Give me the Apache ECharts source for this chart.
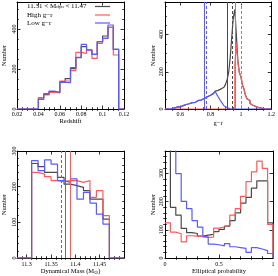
<!DOCTYPE html>
<html><head><meta charset="utf-8">
<script src="https://cdn.jsdelivr.net/npm/echarts@6/dist/echarts.min.js"></script>
<style>html,body{margin:0;padding:0;background:#fff}#c{width:278px;height:276px}</style>
</head><body><div id="c"></div>
<script>
// ---------- Panel 1: Redshift ----------
const zEdges = [0.02,0.025,0.03,0.035,0.04,0.045,0.05,0.055,0.06,0.065,0.07,0.075,0.08,0.085,0.09,0.095,0.1,0.105,0.11,0.115,0.12];
const zAll  = [0,0,0,0,55,73,87,82,137,152,202,257,312,295,273,337,365,408,298,0];
const zHigh = [0,0,0,0,57,70,83,82,140,140,192,283,278,295,253,328,353,408,270,0];
const zLow  = [0,0,0,0,48,77,90,82,133,132,207,258,323,295,273,337,353,420,298,0];
const zTicks = [0.02,0.04,0.06,0.08,0.1,0.12];
const zMinor = [0.025,0.03,0.035,0.045,0.05,0.055,0.065,0.07,0.075,0.085,0.09,0.095,0.105,0.11,0.115];
const zY = [0,200,400];
const zYMinor = [50,100,150,250,300,350,450,500];

// ---------- Panel 2: g-r ----------
const grStart = 0.5, grStep = 0.01;
const grAll = [
 0,0,0,0,2,5,7,10,12,11,
 15,18,20,24,22,28,30,34,38,36,
 42,46,50,48,55,58,63,66,70,74,
 78,84,90,96,100,104,108,112,118,125,
 135,160,200,280,390,490,535,400,260,195,
 175,130,108,75,55,46,30,20,17,13,
 11,7,5,4,3,1,0,0,0,0];
const grHigh = [
 0,0,0,0,0,0,0,0,0,0,
 0,0,0,0,0,0,0,0,0,0,
 0,0,0,0,0,0,0,0,0,0,
 0,0,0,0,0,0,0,0,0,0,
 0,0,0,0,0,0,240,350,250,195,
 175,130,108,75,55,46,30,20,17,13,
 11,7,5,4,3,1,0,0,0,0];
const grLow = [
 0,0,0,0,2,5,7,10,12,11,
 15,18,20,24,22,28,30,34,38,36,
 42,46,50,48,55,58,63,66,70,74,
 78,84,90,95,80,66,52,40,28,16,
 8,3,0,0,0,0,0,0,0,0,
 0,0,0,0,0,0,0,0,0,0,
 0,0,0,0,0,0,0,0,0,0];
const grTicks = [0.6,0.8,1,1.2];
const grMinor = [0.55,0.65,0.7,0.75,0.85,0.9,0.95,1.05,1.1,1.15];
const grY = [0,200,400];
const grYMinor = [50,100,150,250,300,350,450,500,550];
const grLinesAll = [0.906, 0.940];   // [solid, dashed]
const grLinesHigh = [0.965, 0.996];
const grLinesLow = [0.757, 0.771];

// ---------- Panel 3: Dynamical mass ----------
const mEdges = [11.28,11.31,11.3233,11.3367,11.35,11.3633,11.3767,11.39,11.4033,11.4167,11.43,11.4433,11.4567,11.47,11.5];
const mAll  = [0,265,256,240,240,226,207,203,198,189,165,165,109,0];
const mHigh = [0,240,235,228,217,214,217,217,212,217,170,189,119,0];
const mLow  = [0,273,245,275,263,217,212,222,165,184,154,123,95,0];
const mTicks = [11.3,11.35,11.4,11.45];
const mMinor = [11.29,11.31,11.32,11.33,11.34,11.36,11.37,11.38,11.39,11.41,11.42,11.43,11.44,11.46,11.47,11.48,11.49];
const mY = [0,100,200,300];
const mYMinor = [20,40,60,80,120,140,160,180,220,240,260,280];
const mLinesAll = [11.3805, 11.3745];
const mLinesHigh = [11.386, 11.3835];
const mLinesLow = [11.378, 11.370];

// ---------- Panel 4: Elliptical probability ----------
const pEdges = [0,0.05,0.1,0.15,0.2,0.25,0.3,0.35,0.4,0.45,0.5,0.55,0.6,0.65,0.7,0.75,0.8,0.85,0.9,0.95,1];
const pAll  = [600,180,152,105,90,87,78,81,84,94,102,113,133,160,195,215,248,274,274,125];
const pHigh = [125,92,86,57,79,78,77,73,74,106,110,117,152,175,219,271,306,344,318,119];
const pLow  = [900,500,300,201,175,133,110,75,49,47,43,51,40,37,34,20,37,32,26,16];
const pTicks = [0,0.5,1];
const pMinor = [0.1,0.2,0.3,0.4,0.6,0.7,0.8,0.9];
const pY = [0,100,200,300];
const pYMinor = [20,40,60,80,120,140,160,180,220,240,260,280,320,340,360];

// ---------- styling ----------
const FONT = 'Liberation Serif';
const C_ALL = '#4a4a4a', C_HIGH = '#ff5a5a', C_LOW = '#5a5aff';

function hist(edges, vals) {
  const d = vals.map((v, i) => [edges[i], v]);
  d.push([edges[edges.length - 1], vals[vals.length - 1]]);
  d.push([edges[edges.length - 1], 0]);
  return d;
}
function grEdges(n) { const e = []; for (let i = 0; i <= n; i++) e.push(+(grStart + i * grStep).toFixed(3)); return e; }

const grids = [
  {left: 14, top: 2, width: 110, height: 107},
  {left: 165, top: 2, width: 108, height: 107},
  {left: 14, top: 151, width: 110, height: 108},
  {left: 165, top: 151, width: 108, height: 108}
];

const xAxes = [], yAxes = [];
function frame(g, xr, xMaj, xMin, xName, yr, yMaj, yMin, yName, o) {
  const base = {type: 'value', gridIndex: g, splitLine: {show: false}, silent: true};
  const lab = {fontFamily: FONT, fontSize: 6, color: '#000'};
  const line = {show: true, onZero: false, lineStyle: {color: '#000', width: 1}};
  xAxes.push(Object.assign({}, base, {min: xr[0], max: xr[1], position: 'bottom', axisLine: line,
    axisTick: {show: true, inside: true, length: 3.5, customValues: xMaj, lineStyle: {color: '#000', width: 0.8}},
    axisLabel: Object.assign({show: true, customValues: xMaj, margin: o.xm}, lab),
    name: xName, nameLocation: 'middle', nameGap: o.xg,
    nameTextStyle: {fontFamily: FONT, fontSize: 6.5, color: '#000', rich: {s: {fontFamily: FONT, fontSize: 4.5, color: '#000', verticalAlign: 'bottom', lineHeight: 4}}}}));
  xAxes.push(Object.assign({}, base, {min: xr[0], max: xr[1], position: 'bottom', axisLine: {show: false},
    axisTick: {show: true, inside: true, length: 1.8, customValues: xMin, lineStyle: {color: '#000', width: 0.8}},
    axisLabel: {show: false}}));
  xAxes.push(Object.assign({}, base, {min: xr[0], max: xr[1], position: 'top', axisLine: line,
    axisTick: {show: true, inside: true, length: 3.5, customValues: xMaj, lineStyle: {color: '#000', width: 0.8}},
    axisLabel: {show: false}}));
  xAxes.push(Object.assign({}, base, {min: xr[0], max: xr[1], position: 'top', axisLine: {show: false},
    axisTick: {show: true, inside: true, length: 1.8, customValues: xMin, lineStyle: {color: '#000', width: 0.8}},
    axisLabel: {show: false}}));
  yAxes.push(Object.assign({}, base, {min: yr[0], max: yr[1], position: 'left', axisLine: line,
    axisTick: {show: true, inside: true, length: 3.5, customValues: yMaj, lineStyle: {color: '#000', width: 0.8}},
    axisLabel: Object.assign({show: true, customValues: yMaj, rotate: 90, margin: o.ym}, lab),
    name: yName, nameLocation: 'middle', nameRotate: 90, nameGap: o.yg,
    nameTextStyle: {fontFamily: FONT, fontSize: 6.5, color: '#000'}}));
  yAxes.push(Object.assign({}, base, {min: yr[0], max: yr[1], position: 'left', axisLine: {show: false},
    axisTick: {show: true, inside: true, length: 1.8, customValues: yMin, lineStyle: {color: '#000', width: 0.8}},
    axisLabel: {show: false}}));
  yAxes.push(Object.assign({}, base, {min: yr[0], max: yr[1], position: 'right', axisLine: line,
    axisTick: {show: true, inside: true, length: 3.5, customValues: yMaj, lineStyle: {color: '#000', width: 0.8}},
    axisLabel: {show: false}}));
  yAxes.push(Object.assign({}, base, {min: yr[0], max: yr[1], position: 'right', axisLine: {show: false},
    axisTick: {show: true, inside: true, length: 1.8, customValues: yMin, lineStyle: {color: '#000', width: 0.8}},
    axisLabel: {show: false}}));
}

frame(0, [0.02, 0.12], zTicks, zMinor, 'Redshift', [0, 535], zY, zYMinor, 'Number', {xm: 2, xg: 9, ym: 0, yg: 9});
frame(1, [0.5, 1.2], grTicks, grMinor, 'g\u2212r', [0, 575], grY, grYMinor, 'Number', {xm: 2, xg: 10.5, ym: 1, yg: 7});
frame(2, [11.28, 11.5], mTicks, mMinor, 'Dynamical Mass (M{s|\u2299})', [0, 300], mY, mYMinor, 'Number', {xm: 3, xg: 10, ym: 0, yg: 9});
frame(3, [0, 1], pTicks, pMinor, 'Elliptical probability', [0, 380], pY, pYMinor, 'Number', {xm: 3, xg: 10, ym: 1, yg: 7});

function stepSeries(g, data, color, lines) {
  const s = {type: 'line', step: 'end', data: data, xAxisIndex: 4 * g, yAxisIndex: 4 * g,
    symbol: 'none', silent: true, animation: false, clip: true,
    lineStyle: {color: color, width: 1.2}, itemStyle: {color: color}};
  if (lines) {
    s.markLine = {silent: true, animation: false, symbol: ['none', 'none'], label: {show: false},
      data: [
        {xAxis: lines[0], lineStyle: {color: color, width: 1, type: 'solid'}},
        {xAxis: lines[1], lineStyle: {color: color, width: 1, type: [3, 2]}}
      ]};
  }
  return s;
}

const grE = grEdges(grAll.length);
const series = [
  stepSeries(0, hist(zEdges, zAll), C_ALL),
  stepSeries(0, hist(zEdges, zHigh), C_HIGH),
  stepSeries(0, hist(zEdges, zLow), C_LOW),
  stepSeries(1, hist(grE, grAll), C_ALL, grLinesAll),
  stepSeries(1, hist(grE, grHigh), C_HIGH, grLinesHigh),
  stepSeries(1, hist(grE, grLow), C_LOW, grLinesLow),
  stepSeries(2, hist(mEdges, mAll), C_ALL, mLinesAll),
  stepSeries(2, hist(mEdges, mHigh), C_HIGH, mLinesHigh),
  stepSeries(2, hist(mEdges, mLow), C_LOW, mLinesLow),
  stepSeries(3, hist(pEdges, pAll), C_ALL),
  stepSeries(3, hist(pEdges, pHigh), C_HIGH),
  stepSeries(3, hist(pEdges, pLow), C_LOW)
];

const legendText = {fontFamily: FONT, fontSize: 7, fill: '#000', verticalAlign: 'middle', align: 'left'};
const graphic = [
  {type: 'text', x: 27, y: 6, silent: true, style: Object.assign({text: '11.31 < M{s|dyn} < 11.47',
     rich: {s: {fontFamily: FONT, fontSize: 5, fill: '#000', verticalAlign: 'bottom', lineHeight: 4}}}, legendText)},
  {type: 'text', x: 27, y: 15, silent: true, style: Object.assign({text: 'High g\u2212r'}, legendText)},
  {type: 'text', x: 27, y: 23.3, silent: true, style: Object.assign({text: 'Low g\u2212r'}, legendText)},
  {type: 'line', silent: true, shape: {x1: 95, y1: 6.5, x2: 110, y2: 6.5}, style: {stroke: C_ALL, lineWidth: 1.2}},
  {type: 'line', silent: true, shape: {x1: 95, y1: 15, x2: 110, y2: 15}, style: {stroke: C_HIGH, lineWidth: 1.2}},
  {type: 'line', silent: true, shape: {x1: 95, y1: 23, x2: 110, y2: 23}, style: {stroke: C_LOW, lineWidth: 1.2}}
];

const chart = echarts.init(document.getElementById('c'), null, {renderer: 'canvas'});
chart.setOption({
  animation: false,
  backgroundColor: '#fff',
  grid: grids,
  xAxis: xAxes,
  yAxis: yAxes,
  series: series,
  graphic: graphic
});
</script>
</body></html>
